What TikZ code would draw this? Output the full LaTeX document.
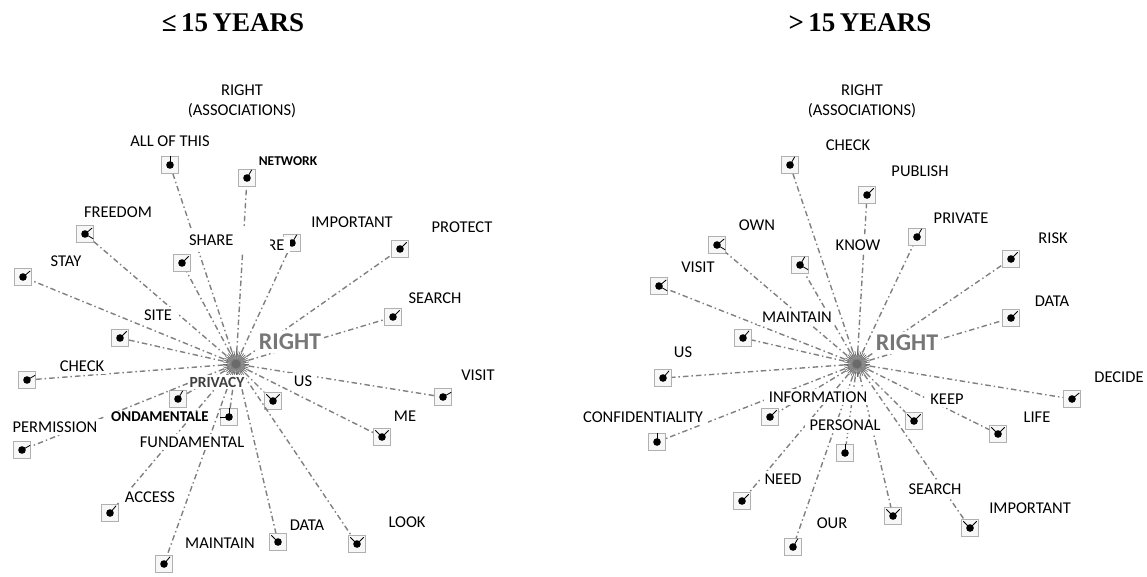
\documentclass[tikz,border=0pt]{standalone}
\usepackage{fontspec}
\setmainfont{Carlito}
\newfontfamily\titlefont{Liberation Serif}
\usepackage{tikz}
\usepackage{xcolor}
\definecolor{linkgrey}{HTML}{808080}
\definecolor{boxgrey}{HTML}{B0B0B0}
\definecolor{hubgrey}{HTML}{6A6A6A}
\definecolor{bigword}{HTML}{767676}
\newcommand{\wordbox}[3]{%
  \node[wbox] (#1) at (#2) {};
  \fill (#1) circle (3.8pt);
  \foreach \t in {#3} \draw[line width=0.8pt] (#1.center) -- ++(\t:9.5pt);
}
\newcommand{\starhub}[1]{%
  \foreach \a in {0,9,...,351} \draw[hubgrey,line width=0.7pt] (#1) -- ++(\a:13pt);
  \foreach \a in {4,13,...,355} \draw[hubgrey!80,line width=0.6pt] (#1) -- ++(\a:9pt);
  \fill[hubgrey] (#1) circle (4.5pt);
}
\tikzset{
  wbox/.style={draw=boxgrey,line width=0.9pt,fill=gray!6,minimum size=17pt,inner sep=0pt},
  link/.style={linkgrey,line width=1.4pt,dash pattern=on 5.5pt off 3pt on 1.5pt off 3pt},
  word/.style={fill=white,inner xsep=5pt,inner ysep=3pt,text=black,font=\fontsize{16.5}{18}\selectfont},
  bigword/.style={fill=white,inner sep=3pt,text=bigword,font=\bfseries\fontsize{24}{26}\selectfont},
  headword/.style={align=center,text=black,font=\fontsize{16.5}{20}\selectfont},
  agetitle/.style={font=\titlefont\bfseries\fontsize{27}{29}\selectfont}
}

\begin{document}
\begin{tikzpicture}[x=1pt,y=-1pt]
\useasboundingbox (0,0) rectangle (1147,576);

% titles
\node[agetitle] (ttlL) at (233,23) {≤\,15\,YEARS};
\node[agetitle] (ttlR) at (860,23) {>\,15\,YEARS};

% left: <= 15 years
\coordinate (hubL) at (236,364);
\wordbox{lAll}{170,165}{90}
\wordbox{lNet}{247,178}{60}
\wordbox{lFree}{85,234}{40,-30}
\wordbox{lShare}{182,263}{45}
\wordbox{lRe}{292,243}{60}
\wordbox{lProt}{400,249}{45}
\wordbox{lSearch}{393,317}{45}
\wordbox{lStay}{23,277}{40}
\wordbox{lSite}{120,338}{45}
\wordbox{lCheck}{27,380}{30}
\wordbox{lPriv}{178,399}{60}
\wordbox{lFond}{229,417}{180,90}
\wordbox{lPerm}{22,450}{30}
\wordbox{lAcc}{110,513}{50}
\wordbox{lMaint}{164,564}{50}
\wordbox{lData}{278,542}{135}
\wordbox{lLook}{357,544}{135,45}
\wordbox{lUs}{273,401}{135,45}
\wordbox{lVisit}{443,397}{30}
\wordbox{lMe}{382,437}{135,45}
\foreach \n in {lAll,lNet,lFree,lShare,lRe,lProt,lSearch,lStay,lSite,lCheck,lPriv,lFond,lPerm,lAcc,lMaint,lData,lLook,lUs,lVisit,lMe}
  \draw[link] (hubL) -- (\n);
\starhub{hubL}

\node[headword] (headL) at (242,101) {RIGHT\\(ASSOCIATIONS)};
\node[word] (wAll) at (170,141) {ALL OF THIS};
\node[word,font=\bfseries\fontsize{13.5}{15}\selectfont] (wNet) at (288,161) {NETWORK};
\node[word] (wFree) at (118,212) {FREEDOM};
\node[word] (wRe) at (276,245) {RE};
\node[word,minimum width=86pt,minimum height=24pt,text width=76pt,align=left] (wShare) at (227,240) {SHARE};
\node[word] (wImp) at (352,222) {IMPORTANT};
\node[word] (wProt) at (462,227) {PROTECT};
\node[word] (wSearch) at (435,298) {SEARCH};
\node[word] (wStay) at (66,261) {STAY};
\node[word] (wSite) at (158,315) {SITE};
\node[word] (wCheck) at (82,366) {CHECK};
\node[word,inner xsep=2pt,inner ysep=1.5pt,text=black!75,font=\bfseries\fontsize{15.5}{17}\selectfont] (wPriv) at (217,382) {PRIVACY};
\node[word,inner ysep=1.5pt,font=\bfseries\fontsize{15}{17}\selectfont] (wFond) at (160,417) {ONDAMENTALE};
\node[word] (wPerm) at (55,427) {PERMISSION};
\node[word] (wFund) at (192,442) {FUNDAMENTAL};
\node[word] (wAcc) at (150,497) {ACCESS};
\node[word] (wMaint) at (220,543) {MAINTAIN};
\node[word] (wData) at (307,525) {DATA};
\node[word] (wLook) at (407,522) {LOOK};
\node[word] (wUs) at (303,381) {US};
\node[word] (wVisit) at (478,375) {VISIT};
\node[word] (wMe) at (405,416) {ME};
\node[bigword] (bigL) at (290,342) {RIGHT};

% right: > 15 years
\coordinate (hubR) at (857,364);
\wordbox{rCheck}{790,165}{60}
\wordbox{rPub}{867,195}{45}
\wordbox{rPriv}{917,237}{60}
\wordbox{rRisk}{1011,259}{45}
\wordbox{rData}{1011,318}{45}
\wordbox{rOwn}{717,245}{40,-30}
\wordbox{rKnow}{800,265}{60,-30}
\wordbox{rVisit}{659,286}{40,-30}
\wordbox{rMaint}{743,338}{50}
\wordbox{rUs}{663,378}{50}
\wordbox{rInfo}{770,417}{45}
\wordbox{rConf}{657,442}{90}
\wordbox{rPers}{845,453}{90}
\wordbox{rNeed}{742,501}{45}
\wordbox{rOur}{793,547}{60}
\wordbox{rSearch}{893,516}{135,45}
\wordbox{rImp}{970,528}{135,45}
\wordbox{rKeep}{914,421}{135,45}
\wordbox{rLife}{998,434}{135,45}
\wordbox{rDecide}{1072,399}{40}
\foreach \n in {rCheck,rPub,rPriv,rRisk,rData,rOwn,rKnow,rVisit,rMaint,rUs,rInfo,rConf,rPers,rNeed,rOur,rSearch,rImp,rKeep,rLife,rDecide}
  \draw[link] (hubR) -- (\n);
\starhub{hubR}

\node[headword] (headR) at (862,101) {RIGHT\\(ASSOCIATIONS)};
\node[word] (vCheck) at (848,145) {CHECK};
\node[word] (vPub) at (920,171) {PUBLISH};
\node[word] (vPriv) at (961,218) {PRIVATE};
\node[word] (vRisk) at (1053,238) {RISK};
\node[word] (vData) at (1052,301) {DATA};
\node[word] (vOwn) at (757,225) {OWN};
\node[word] (vKnow) at (858,245) {KNOW};
\node[word] (vVisit) at (698,267) {VISIT};
\node[word] (vMaint) at (797,317) {MAINTAIN};
\node[word] (vUs) at (683,352) {US};
\node[word] (vInfo) at (818,397) {INFORMATION};
\node[word] (vConf) at (643,417) {CONFIDENTIALITY};
\node[word] (vPers) at (845,425) {PERSONAL};
\node[word] (vNeed) at (783,479) {NEED};
\node[word] (vOur) at (832,523) {OUR};
\node[word] (vSearch) at (935,489) {SEARCH};
\node[word] (vImp) at (1030,508) {IMPORTANT};
\node[word] (vKeep) at (947,399) {KEEP};
\node[word] (vLife) at (1037,417) {LIFE};
\node[word] (vDecide) at (1119,377) {DECIDE};
\node[bigword] (bigR) at (907,343) {RIGHT};
\end{tikzpicture}
\end{document}
